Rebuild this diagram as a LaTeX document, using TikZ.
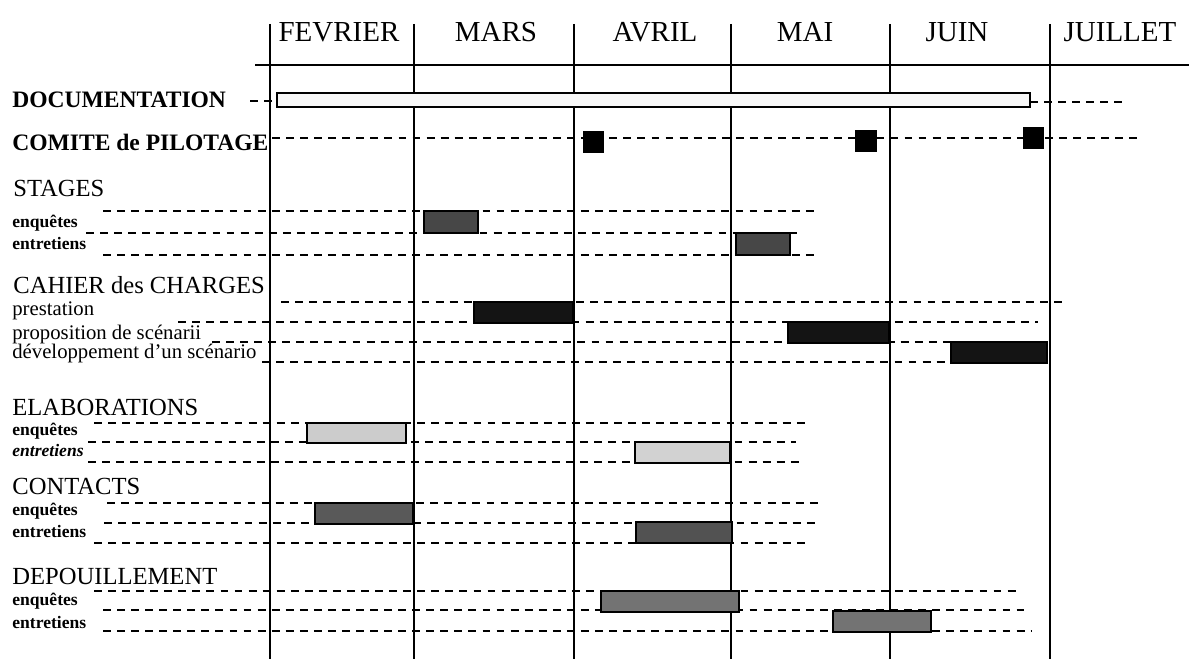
\documentclass[tikz,border=0pt]{standalone}
\usepackage{fontspec}
\setmainfont{Liberation Serif}

\begin{document}
\begin{tikzpicture}[x=0.02cm, y=-0.02cm,
    month/.style={anchor=base, font=\fontsize{16.5}{18}\selectfont, inner sep=0pt},
    task/.style={anchor=base west, font=\bfseries\fontsize{13.4}{15}\selectfont, inner sep=0pt},
    group/.style={anchor=base west, font=\fontsize{14}{16}\selectfont, inner sep=0pt},
    sub/.style={anchor=base west, font=\bfseries\fontsize{10}{12}\selectfont, inner sep=0pt},
    item/.style={anchor=base west, font=\fontsize{11.8}{13}\selectfont, inner sep=0pt},
    grid/.style={line width=0.9pt},
    track/.style={line width=1pt, dash pattern=on 4.5pt off 3.5pt},
    bar/.style={draw, line width=1pt}]
    \useasboundingbox (0,0) rectangle (1189,662);

    % Months
    \draw[grid] (255,65) -- (1189,65);
    \foreach \x in {270,414,574,731,890,1050}
        \draw[grid] (\x,24) -- (\x,659);
    \node[month] (fevrier) at (339,42) {FEVRIER};
    \node[month] (mars) at (496,42) {MARS};
    \node[month] (avril) at (655,42) {AVRIL};
    \node[month] (mai) at (805,42) {MAI};
    \node[month] (juin) at (957,42) {JUIN};
    \node[month] (juillet) at (1120,42) {JUILLET};

    % Documentation and comite
    \node[task] (doc) at (12,108) {DOCUMENTATION};
    \draw[track] (250,101) -- (277,101);
    \draw[track] (1030,102) -- (1125,102);
    \draw[bar, fill=gray!6] (277,93) rectangle (1030,107);

    \node[task] (comite) at (12,151) {COMITE de PILOTAGE};
    \draw[track] (272,138) -- (1138,138);
    \fill (583,131) rectangle (604,153);
    \fill (855,130) rectangle (877,152);
    \fill (1023,127) rectangle (1044,149);

    % Stages
    \node[group] (stages) at (13,196) {STAGES};
    \node[sub] (st-enq) at (12,227) {enquêtes};
    \node[sub] (st-ent) at (12,249) {entretiens};
    \draw[track] (103,211) -- (817,211);
    \draw[track] (86,233) -- (797,233);
    \draw[track] (103,255) -- (817,255);
    \draw[bar, fill=black!72] (424,211) rectangle (478,233);
    \draw[bar, fill=black!72] (736,233) rectangle (790,255);

    % Cahier des charges
    \node[group] (cahier) at (13,293) {CAHIER des CHARGES};
    \node[item] (prest) at (12,315) {prestation};
    \node[item] (propo) at (12,339) {proposition de scénarii};
    \node[item] (devel) at (12,358) {développement d’un scénario};
    \draw[track] (281,302) -- (1066,302);
    \draw[track] (178,322) -- (1038,322);
    \draw[track] (212,342) -- (951,342);
    \draw[track] (262,362) -- (951,362);
    \draw[bar, fill=black!92] (474,302) rectangle (573,323);
    \draw[bar, fill=black!92] (788,322) rectangle (889,343);
    \draw[bar, fill=black!92] (951,342) rectangle (1047,363);

    % Elaborations
    \node[group] (elab) at (12,415) {ELABORATIONS};
    \node[sub] (el-enq) at (12,435) {enquêtes};
    \node[sub] (el-ent) at (12,456) {\itshape entretiens};
    \draw[track] (94,423) -- (807,423);
    \draw[track] (88,442) -- (796,442);
    \draw[track] (88,462) -- (802,462);
    \draw[bar, fill=gray!40] (307,423) rectangle (406,443);
    \draw[bar, fill=gray!35] (635,442) rectangle (730,463);

    % Contacts
    \node[group] (contacts) at (12,494) {CONTACTS};
    \node[sub] (co-enq) at (12,515) {enquêtes};
    \node[sub] (co-ent) at (12,537) {entretiens};
    \draw[track] (107,503) -- (822,503);
    \draw[track] (104,523) -- (815,523);
    \draw[track] (94,543) -- (808,543);
    \draw[bar, fill=black!65] (315,503) rectangle (413,524);
    \draw[bar, fill=black!68] (636,522) rectangle (732,543);

    % Depouillement
    \node[group] (depouil) at (12,584) {DEPOUILLEMENT};
    \node[sub] (de-enq) at (12,605) {enquêtes};
    \node[sub] (de-ent) at (12,628) {entretiens};
    \draw[track] (94,591) -- (1017,591);
    \draw[track] (103,610) -- (1024,610);
    \draw[track] (103,631) -- (1032,631);
    \draw[bar, fill=black!55] (601,591) rectangle (739,612);
    \draw[bar, fill=black!55] (833,611) rectangle (931,632);
\end{tikzpicture}
\end{document}
